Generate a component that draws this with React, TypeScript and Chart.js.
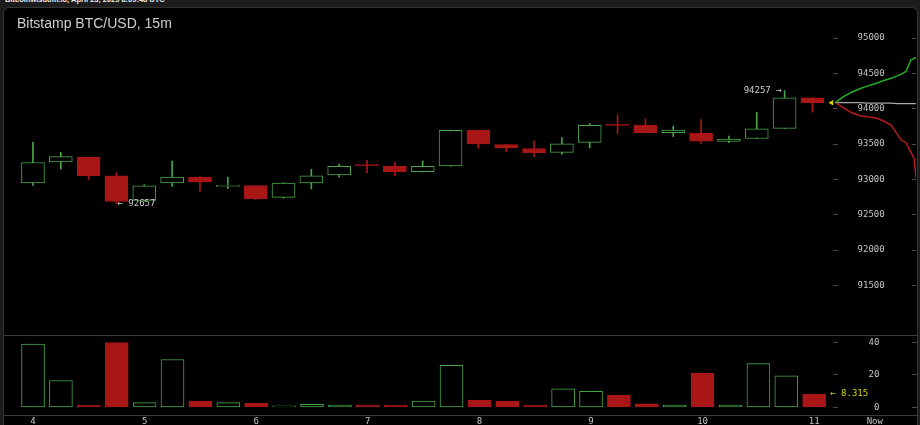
import React, { useEffect, useRef } from 'react';
import { Chart, registerables } from 'chart.js';

Chart.register(...registerables);

const HEADER = 'Bitcoinwisdom.io, April 23, 2025 8:09:48 UTC';
const TITLE = 'Bitstamp BTC/USD, 15m';

// time axis (candle index positions of the hour labels)
const TIME_LABELS = ['4', '5', '6', '7', '8', '9', '10', '11', 'Now'];
const TIME_TICK_POS = [0, 4, 8, 12, 16, 20, 24, 28, 30.17];

// 15m candles from 4:00 to 11:00
const OPEN = [92949, 93248, 93312, 93050, 92701, 92949, 93032, 92902, 92912, 92746, 92949, 93064, 93201, 93184, 93109, 93192, 93695, 93492, 93437, 93381, 93524, 93770, 93768, 93662, 93654, 93537, 93579, 93723, 94155];
const HIGH = [93524, 93382, 93315, 93096, 92926, 93261, 93035, 93032, 92915, 92955, 93143, 93216, 93270, 93247, 93261, 93700, 93698, 93495, 93547, 93593, 93792, 93916, 93855, 93754, 93847, 93612, 93948, 94257, 94160];
const LOW = [92916, 93147, 92995, 92657, 92690, 92902, 92833, 92870, 92715, 92735, 92866, 93032, 93096, 93054, 93105, 93185, 93441, 93395, 93322, 93354, 93446, 93648, 93655, 93607, 93510, 93520, 93575, 93720, 93952];
const CLOSE = [93239, 93322, 93054, 92687, 92908, 93032, 92963, 92905, 92723, 92949, 93050, 93184, 93195, 93109, 93184, 93695, 93502, 93446, 93377, 93502, 93764, 93765, 93662, 93699, 93543, 93571, 93717, 94155, 94086];
const VOLUME = [39, 16.6, 1.5, 40, 3, 29.5, 4, 3, 2.5, 1, 2, 1.5, 1.5, 1.5, 4, 26, 4.5, 4, 1.5, 11.5, 10, 7.7, 2.3, 1.5, 21, 1.5, 27, 19.5, 8.315];

const PRICE_TICKS = [91500, 92000, 92500, 93000, 93500, 94000, 94500, 95000];
const VOLUME_TICKS = [0, 20, 40];

// market depth overlay (offset after last candle, in candle units)
const DEPTH_OFFSETS = [0.82, 1.10, 1.39, 1.68, 1.96, 2.25, 2.54, 2.82, 3.04, 3.18, 3.36, 3.54, 3.65, 3.72];
const DEPTH_ASK = [94086, 94169, 94231, 94279, 94321, 94355, 94397, 94431, 94466, 94486, 94528, 94693, 94714, 94728];
const DEPTH_BID = [94086, 94017, 93948, 93906, 93886, 93872, 93830, 93768, 93644, 93561, 93520, 93382, 93299, 93023];
const DEPTH_MID = [94086, 94086, 94086, 94086, 94079, 94079, 94079, 94079, 94072, 94072, 94072, 94072, 94072, 94072];
const NOW_MARK_OFFSET = 0.69;

const X_MIN = -1.04;
const X_MAX = 31.72;
const PRICE_MIN = 90854;
const PRICE_MAX = 95370;
const VOL_MIN = -5.05;
const VOL_MAX = 44.6;

const GREEN = '#48a648';
const RED = '#a81616';
const YELLOW = '#d6d600';
const LABEL = '#c4c4c4';
const MONO = '"DejaVu Sans Mono", monospace';
const DASH = [0, 829, 5, 74, 6, 3000];

const up = CLOSE.map((c, i) => c >= OPEN[i]);
const LAST = CLOSE.length - 1;

const priceNotes = {
  id: 'priceNotes',
  afterDatasetsDraw(chart: any) {
    const { ctx, scales } = chart;
    const x = scales.x;
    const y = scales.y;
    const minLow = Math.min(...LOW);
    const maxHigh = Math.max(...HIGH);
    const li = LOW.indexOf(minLow);
    const hi = HIGH.indexOf(maxHigh);
    ctx.save();
    ctx.font = `9px ${MONO}`;
    ctx.fillStyle = '#cfcfcf';
    ctx.textBaseline = 'middle';
    ctx.textAlign = 'left';
    ctx.fillText('\u2190 ' + minLow, x.getPixelForValue(li) + 1, y.getPixelForValue(minLow));
    ctx.textAlign = 'right';
    ctx.fillText(maxHigh + ' \u2192', x.getPixelForValue(hi) - 3, y.getPixelForValue(maxHigh));
    ctx.restore();
  },
};

const volumeNotes = {
  id: 'volumeNotes',
  afterDatasetsDraw(chart: any) {
    const { ctx, scales } = chart;
    const v = VOLUME[LAST];
    ctx.save();
    ctx.font = `9px ${MONO}`;
    ctx.fillStyle = YELLOW;
    ctx.textBaseline = 'middle';
    ctx.textAlign = 'left';
    ctx.fillText('\u2190 ' + v, scales.x.getPixelForValue(LAST) + 16, scales.y.getPixelForValue(v));
    ctx.restore();
  },
};

export default function App() {
  const priceRef = useRef<HTMLCanvasElement>(null);
  const volRef = useRef<HTMLCanvasElement>(null);

  useEffect(() => {
    const bodies = CLOSE.map((c, i) => ({ x: i, y: [OPEN[i], c] }));
    const wicks = CLOSE.map((_, i) => ({ x: i, y: [LOW[i], HIGH[i]] }));
    const depthX = DEPTH_OFFSETS.map((o) => LAST + o);

    const price = new Chart(priceRef.current as HTMLCanvasElement, {
      type: 'bar',
      data: {
        datasets: [
          {
            type: 'line',
            data: [{ x: LAST + NOW_MARK_OFFSET, y: CLOSE[LAST] }],
            showLine: false,
            pointStyle: 'triangle',
            rotation: -90,
            pointRadius: 3.2,
            pointBackgroundColor: YELLOW,
            pointBorderColor: YELLOW,
            pointBorderWidth: 0,
          } as any,
          {
            type: 'line',
            data: depthX.map((x, i) => ({ x, y: DEPTH_ASK[i] })),
            borderColor: '#22b022',
            borderWidth: 1.5,
            pointRadius: 0,
            tension: 0,
          },
          {
            type: 'line',
            data: depthX.map((x, i) => ({ x, y: DEPTH_BID[i] })),
            borderColor: '#b81a1a',
            borderWidth: 1.5,
            pointRadius: 0,
            tension: 0,
          },
          {
            type: 'line',
            data: depthX.map((x, i) => ({ x, y: DEPTH_MID[i] })),
            borderColor: '#a8a8a8',
            borderWidth: 1.2,
            pointRadius: 0,
            tension: 0,
          },
          {
            type: 'bar',
            data: bodies as any,
            backgroundColor: up.map((u) => (u ? '#000000' : RED)),
            borderColor: up.map((u) => (u ? GREEN : RED)),
            borderWidth: 1,
            borderSkipped: false,
            barThickness: 23,
            grouped: false,
            minBarLength: 1,
          } as any,
          {
            type: 'bar',
            data: wicks as any,
            backgroundColor: up.map((u) => (u ? GREEN : RED)),
            borderWidth: 0,
            barThickness: 1,
            grouped: false,
          } as any,
        ],
      },
      options: {
        animation: false,
        responsive: false,
        maintainAspectRatio: false,
        layout: { padding: { left: 4, right: 2, top: 0, bottom: 0 } },
        plugins: { legend: { display: false }, tooltip: { enabled: false } },
        scales: {
          x: { type: 'linear', min: X_MIN, max: X_MAX, offset: false, display: false },
          y: {
            type: 'linear',
            position: 'right',
            min: PRICE_MIN,
            max: PRICE_MAX,
            afterFit: (s: any) => { s.width = 0; },
            afterBuildTicks: (s: any) => { s.ticks = PRICE_TICKS.map((v) => ({ value: v })); },
            ticks: {
              mirror: true,
              padding: -31.3,
              color: LABEL,
              font: { family: MONO, size: 9 },
              callback: (v: any) => String(v),
            },
            grid: { color: '#4a4a4a', drawTicks: false, lineWidth: 1 },
            border: { display: false, dash: DASH },
          },
        },
      } as any,
      plugins: [priceNotes],
    });

    const vol = new Chart(volRef.current as HTMLCanvasElement, {
      type: 'bar',
      data: {
        datasets: [
          {
            data: VOLUME.map((v, i) => ({ x: i, y: v })) as any,
            backgroundColor: up.map((u) => (u ? '#000000' : RED)),
            borderColor: up.map((u) => (u ? GREEN : RED)),
            borderWidth: 1,
            borderSkipped: false,
            barThickness: 23,
            grouped: false,
            minBarLength: 1,
          } as any,
        ],
      },
      options: {
        animation: false,
        responsive: false,
        maintainAspectRatio: false,
        layout: { padding: { left: 4, right: 2, top: 0, bottom: 0 } },
        plugins: { legend: { display: false }, tooltip: { enabled: false } },
        scales: {
          x: {
            type: 'linear',
            min: X_MIN,
            max: X_MAX,
            offset: false,
            position: 'bottom',
            afterBuildTicks: (s: any) => { s.ticks = TIME_TICK_POS.map((v) => ({ value: v })); },
            afterFit: (s: any) => { s.height = 14.3; },
            ticks: {
              autoSkip: false,
              maxRotation: 0,
              minRotation: 0,
              padding: 1,
              color: LABEL,
              font: { family: MONO, size: 9 },
              callback: (_v: any, i: number) => TIME_LABELS[i],
            },
            grid: { display: true, drawOnChartArea: false, drawTicks: false },
            border: { display: true, color: '#3a3a3a', width: 1 },
          },
          y: {
            type: 'linear',
            position: 'right',
            min: VOL_MIN,
            max: VOL_MAX,
            afterFit: (s: any) => { s.width = 0; },
            afterBuildTicks: (s: any) => { s.ticks = VOLUME_TICKS.map((v) => ({ value: v })); },
            ticks: {
              mirror: true,
              padding: -38.7,
              color: LABEL,
              font: { family: MONO, size: 9 },
              callback: (v: any) => String(v),
            },
            grid: { color: '#4a4a4a', drawTicks: false, lineWidth: 1 },
            border: { display: false, dash: DASH },
          },
        },
      } as any,
      plugins: [volumeNotes],
    });

    return () => {
      price.destroy();
      vol.destroy();
    };
  }, []);

  return (
    <div style={{ position: 'fixed', left: 0, top: 0, width: 920, height: 425, overflow: 'hidden', background: '#1c1c1c' }}>
      <div style={{ position: 'absolute', left: 5, top: -4, font: 'bold 7.5px "Liberation Sans", Arial, sans-serif', color: '#eeeeee', whiteSpace: 'nowrap', lineHeight: '8px' }}>
        {HEADER}
      </div>
      <div style={{ position: 'absolute', left: 3, top: 7, width: 913, height: 440, background: '#000', border: '1px solid #333', borderRadius: 6 }} />
      <div style={{ position: 'absolute', left: 4, top: 335, width: 914, height: 1, background: '#3a3a3a' }} />
      <canvas ref={priceRef} width={920} height={327} style={{ position: 'absolute', left: 0, top: 8, width: 920, height: 327 }} />
      <canvas ref={volRef} width={920} height={95} style={{ position: 'absolute', left: 0, top: 335, width: 920, height: 95 }} />
      <div style={{ position: 'absolute', left: 17, top: 16, font: '14px "Liberation Sans", Arial, sans-serif', lineHeight: '14px', color: '#cfcfcf', whiteSpace: 'nowrap' }}>
        {TITLE}
      </div>
    </div>
  );
}
